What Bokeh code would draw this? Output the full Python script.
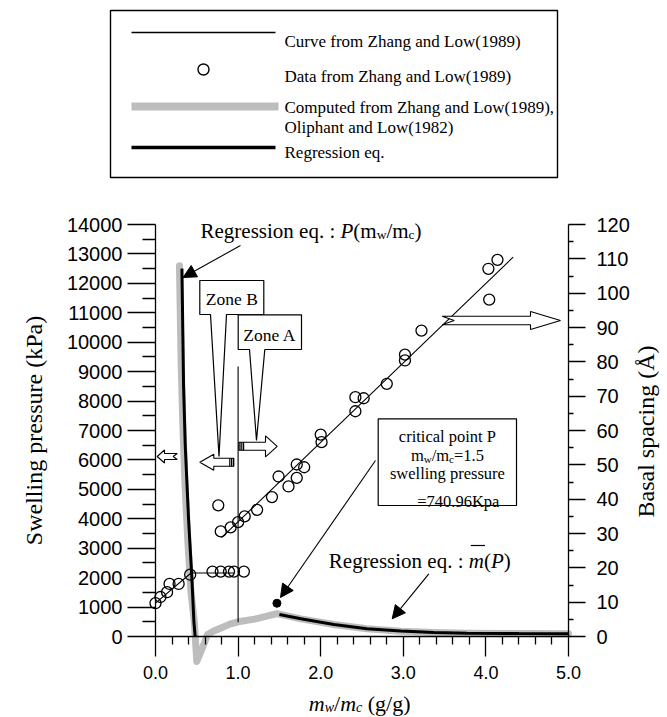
import math
from bokeh.plotting import figure
from bokeh.models import Range1d, LinearAxis, FixedTicker, NumeralTickFormatter, Arrow, NormalHead
from bokeh.core.properties import value
from bokeh.embed import file_html
from bokeh.resources import INLINE

# ---------------- data ----------------
# Data from Zhang and Low (1989): water content m_w/m_c (g/g) and basal spacing (Å)
data_low_x = [0.00, 0.06, 0.14, 0.17, 0.28, 0.42, 0.69, 0.79, 0.89, 0.95, 1.07]
data_low_spacing = [9.7, 11.5, 12.9, 15.3, 15.3, 18.0, 18.9, 18.9, 18.9, 18.9, 18.9]
data_high_x = [0.76, 0.79, 0.91, 1.00, 1.08, 1.23, 1.41, 1.49, 1.61, 1.71, 1.71, 1.80,
               2.00, 2.01, 2.42, 2.42, 2.52, 2.80, 3.02, 3.02, 3.22, 4.03, 4.04, 4.14]
data_high_spacing = [38.2, 30.6, 31.8, 33.3, 35.0, 36.9, 40.6, 46.6, 43.7, 46.2, 50.1, 49.3,
                     58.8, 56.6, 65.6, 69.7, 69.4, 73.6, 80.4, 82.1, 89.1, 107.1, 98.1, 109.7]

# Curve from Zhang and Low (1989)  (basal spacing, Å)
curve_low_x = [0.00, 0.43, 0.95]
curve_low_spacing = [9.7, 18.5, 18.5]
curve_high_x = [0.80, 4.33]
curve_high_spacing = [28.8, 110.5]

# Computed from Zhang and Low (1989), Oliphant and Low (1982)  (swelling pressure, kPa)
computed_x = [0.29, 0.31, 0.33, 0.355, 0.39, 0.43, 0.47, 0.50, 0.57, 0.63, 0.70, 0.80,
              0.90, 1.00, 1.20, 1.47, 1.76, 2.16, 2.56, 2.97, 3.37, 3.77, 4.40, 5.00]
computed_p = [12600, 9300, 7300, 5300, 3300, 1500, 500, -850, -370, 70, 180, 300,
              420, 500, 590, 780, 600, 410, 262, 182, 140, 112, 98, 90]

# Regression eq. P(m_w/m_c)  (kPa)
reg_p_x = [0.32, 0.34, 0.36, 0.40, 0.44, 0.465, 0.48]
reg_p_p = [12500, 8500, 6500, 4000, 2000, 500, 0]
# Regression eq. m(P)  (kPa)
reg_m_x = [1.50, 1.76, 2.16, 2.56, 2.97, 3.37, 3.77, 4.40, 5.00]
reg_m_p = [750, 600, 410, 265, 185, 140, 112, 98, 90]

# Critical point P
crit_x = [1.47]
crit_p = [1130]

# Ticks
x_ticks = [0, 1, 2, 3, 4, 5]
x_minor = [0.2, 0.4, 0.6, 0.8, 1.2, 1.4, 1.6, 1.8, 2.2, 2.4, 2.6, 2.8,
           3.2, 3.4, 3.6, 3.8, 4.2, 4.4, 4.6, 4.8]
p_ticks = [0, 1000, 2000, 3000, 4000, 5000, 6000, 7000, 8000, 9000, 10000,
           11000, 12000, 13000, 14000]
p_minor = [500, 1500, 2500, 3500, 4500, 5500, 6500, 7500, 8500, 9500, 10500,
           11500, 12500, 13500]
a_ticks = [0, 10, 20, 30, 40, 50, 60, 70, 80, 90, 100, 110, 120]
a_minor = [5, 15, 25, 35, 45, 55, 65, 75, 85, 95, 105, 115]
P_MAX = 14000
A_MAX = 120

# ---------------- layout ----------------
W, H = 660, 716
MARGIN = 0
X0_IMG, X5_IMG = 155.0, 568.0     # page pixels of x=0 and x=5
Y0_IMG, YT_IMG = 636.0, 224.0     # page pixels of P=0 and P=14000
SX = (X5_IMG - X0_IMG) / 5.0
SY = (Y0_IMG - YT_IMG) / P_MAX

x_start = (MARGIN - X0_IMG) / SX
x_end = (MARGIN + W - X0_IMG) / SX
y_end = (Y0_IMG - MARGIN) / SY
y_start = (Y0_IMG - (MARGIN + H)) / SY


def ix(px):
    return (px - X0_IMG) / SX


def iy(py):
    return (Y0_IMG - py) / SY


SERIF = "Liberation Serif"
SANS = "Liberation Sans"

p = figure(width=W, height=H, x_range=Range1d(x_start, x_end), y_range=Range1d(y_start, y_end),
           output_backend="svg", toolbar_location=None)
p.min_border = 0
p.min_border_left = 0
p.min_border_right = 0
p.min_border_top = 0
p.min_border_bottom = 0
p.outline_line_color = None
p.grid.visible = False
p.background_fill_color = "white"
p.extra_y_ranges = {"basal": Range1d(y_start * A_MAX / P_MAX, y_end * A_MAX / P_MAX)}

# x axis at P = 0
xa = p.xaxis[0]
xa.fixed_location = 0
xa.bounds = (0, 5)
xa.ticker = FixedTicker(ticks=x_ticks, minor_ticks=x_minor)
xa.formatter = NumeralTickFormatter(format="0.0")
xa.major_tick_in = 0
xa.major_tick_out = 20
xa.minor_tick_in = 0
xa.minor_tick_out = 8
xa.major_label_standoff = 9
xa.major_label_text_font = SANS
xa.major_label_text_font_size = "18px"
xa.major_label_text_color = "black"

# left axis at x = 0
ya = p.yaxis[0]
ya.fixed_location = 0
ya.bounds = (0, P_MAX)
ya.ticker = FixedTicker(ticks=p_ticks, minor_ticks=p_minor)
ya.major_tick_in = 0
ya.major_tick_out = 28
ya.minor_tick_in = 0
ya.minor_tick_out = 13
ya.major_label_standoff = 5
ya.major_label_text_font = SANS
ya.major_label_text_font_size = "20px"
ya.major_label_text_color = "black"

ra = LinearAxis(y_range_name="basal", fixed_location=5, bounds=(0, A_MAX),
                ticker=FixedTicker(ticks=a_ticks, minor_ticks=a_minor))
ra.major_tick_in = 0
ra.major_tick_out = 17
ra.minor_tick_in = 0
ra.minor_tick_out = 5
ra.major_label_standoff = 11
ra.major_label_text_font = SANS
ra.major_label_text_font_size = "20px"
ra.major_label_text_color = "black"
p.add_layout(ra, "right")

for ax in (xa, ya, ra):
    ax.axis_line_color = "black"
    ax.axis_line_width = 1.3
    ax.major_tick_line_color = "black"
    ax.major_tick_line_width = 1.3
    ax.minor_tick_line_color = "black"
    ax.minor_tick_line_width = 1.3

GREY = "#bdbdbd"

# ---------------- data marks ----------------
p.line(computed_x, computed_p, line_width=7, color=GREY, line_join="round", line_cap="round")
p.line(reg_p_x, reg_p_p, line_width=3, color="black")
p.line(reg_m_x, reg_m_p, line_width=3, color="black")
p.line(curve_low_x, curve_low_spacing, y_range_name="basal", line_width=1.1, color="black")
p.line(curve_high_x, curve_high_spacing, y_range_name="basal", line_width=1.1, color="black")
p.scatter(data_low_x, data_low_spacing, y_range_name="basal", size=11, fill_color=None,
          line_color="black", line_width=1.3)
p.scatter(data_high_x, data_high_spacing, y_range_name="basal", size=11, fill_color=None,
          line_color="black", line_width=1.3)
p.scatter(crit_x, crit_p, size=8, fill_color="black", line_color="black")

# vertical line at m_w/m_c = 1.0
p.segment(x0=[1.0], y0=[iy(366)], x1=[1.0], y1=[480], line_color="black", line_width=1.1)

# ---------------- text helpers ----------------
TIMES = {' ': 250, '(': 333, ')': 333, '.': 250, ':': 278, '/': 278, '=': 564, ',': 250,
         'A': 722, 'B': 667, 'C': 667, 'D': 722, 'K': 722, 'L': 611, 'O': 722, 'P': 556,
         'R': 667, 'Z': 611, 'a': 444, 'c': 444, 'd': 500, 'e': 444, 'f': 333, 'g': 500,
         'h': 500, 'i': 278, 'k': 500, 'l': 278, 'm': 778, 'n': 500, 'o': 500, 'p': 500,
         'q': 500, 'r': 333, 's': 389, 't': 278, 'u': 500, 'v': 500, 'w': 722}
TIMES_I = {'m': 722, 'w': 667, 'c': 444, 'P': 611}


def tw(s, size, italic):
    tot = 0
    for ch in s:
        if italic and ch in TIMES_I:
            tot += TIMES_I[ch]
        else:
            tot += TIMES.get(ch, 500)
    return tot / 1000.0 * size


def rich(x0, base, pieces, align="left"):
    widths = [tw(t, s, it) for (t, s, it, dy) in pieces]
    total = sum(widths)
    pos = x0 - total / 2.0 if align == "center" else x0
    spans = []
    for (t, s, it, dy), w in zip(pieces, widths):
        lead = len(t) - len(t.lstrip(" "))
        shown = t.strip(" ")
        start = pos + tw(" " * lead, s, it)
        if shown:
            p.text(x=[ix(start)], y=[iy(base + dy)], text=[shown], text_font=value(SERIF),
                   text_font_size=f"{s}px", text_font_style="italic" if it else "normal",
                   text_baseline="alphabetic", text_align="left", text_color="black")
        spans.append((start, pos + w))
        pos += w
    return spans


def plain(x0, base, t, size, align="left"):
    p.text(x=[ix(x0)], y=[iy(base)], text=[t], text_font=value(SERIF),
           text_font_size=f"{size}px", text_baseline="alphabetic", text_align=align,
           text_color="black")


# ---------------- legend ----------------
p.quad(left=[ix(110)], right=[ix(557)], top=[iy(10)], bottom=[iy(177)], fill_color=None,
       line_color="black", line_width=1.4)
p.segment(x0=[ix(131)], y0=[iy(32)], x1=[ix(275)], y1=[iy(32)], line_color="black", line_width=1.6)
p.scatter([ix(203)], [iy(69)], size=11, fill_color=None, line_color="black", line_width=1.4)
p.segment(x0=[ix(131)], y0=[iy(106)], x1=[ix(278)], y1=[iy(106)], line_color=GREY, line_width=8)
p.segment(x0=[ix(131)], y0=[iy(147)], x1=[ix(275)], y1=[iy(147)], line_color="black", line_width=3.5)
LEG = 17
plain(284, 41, "Curve from Zhang and Low(1989)", LEG)
plain(284, 76, "Data from Zhang and Low(1989)", LEG)
plain(284, 107, "Computed from Zhang and Low(1989),", LEG)
plain(284, 127, "Oliphant and Low(1982)", LEG)
plain(284, 152, "Regression eq.", LEG)


# ---------------- callouts ----------------
def callout(x0, y0, x1, y1, wl, wr, tipx, tipy):
    xs = [x0, x1, x1, wr, tipx, wl, x0]
    ys = [y0, y0, y1, y1, tipy, y1, y1]
    p.patch([ix(v) for v in xs], [iy(v) for v in ys], fill_color="white",
            line_color="black", line_width=1.2)


callout(199.3, 280, 263.3, 314, 210, 226, 218.5, 456)
plain(231.3, 298.5, "Zone B", 17.5, align="center")
callout(237.7, 314.3, 301, 349, 249, 264.3, 256, 440)
plain(269.3, 334, "Zone A", 17.5, align="center")


def block_arrow(tail, tip, hb, yc, sh, hh, notch=0.0, stripes=()):
    d = 1 if tip > tail else -1
    xs = [tail, hb, hb, tip, hb, hb, tail, tail + d * notch]
    ys = [yc - sh, yc - sh, yc - hh, yc, yc + hh, yc + sh, yc + sh, yc]
    p.patch([ix(v) for v in xs], [iy(v) for v in ys], fill_color="white",
            line_color="black", line_width=1.1)
    for sx in stripes:
        p.segment(x0=[ix(sx)], y0=[iy(yc - sh)], x1=[ix(sx)], y1=[iy(yc + sh)],
                  line_color="black", line_width=1.2)


block_arrow(441.7, 560, 530, 320, 4.2, 9, notch=12)
block_arrow(238.3, 276.7, 265, 445.8, 4, 10.5, stripes=(239.5, 241.3, 243.1))
block_arrow(233.3, 199.3, 213.3, 461.7, 4, 8, stripes=(229.3, 231.1, 232.9))
block_arrow(176.7, 156.7, 164, 456, 3, 6.5, notch=4)

# ---------------- pointer arrows ----------------
for (xa0, ya0, xa1, ya1) in [(240, 245, 182.5, 277), (375, 460, 280, 597),
                             (428.3, 573.3, 391.7, 618.3)]:
    p.add_layout(Arrow(end=NormalHead(size=13, fill_color="black", line_color="black"),
                       x_start=ix(xa0), y_start=iy(ya0), x_end=ix(xa1), y_end=iy(ya1),
                       line_color="black", line_width=1.1))

# ---------------- annotations ----------------
BIG = 21
SUB = 13.5
rich(200, 230, [("Regression eq. : ", BIG, False, 0), ("P", BIG, True, 0), ("(m", BIG, False, 0),
                ("w", SUB, False, 4), ("/m", BIG, False, 0), ("c", SUB, False, 4),
                (")", BIG, False, 0)])

spans = rich(328.3, 560, [("Regression eq. : ", BIG, False, 0), ("m", BIG, True, 0),
                          ("(", BIG, False, 0), ("P", BIG, True, 0), (")", BIG, False, 0)])
mx0, mx1 = spans[1]
p.segment(x0=[ix(mx0 + 2)], y0=[iy(545)], x1=[ix(mx1 + 1)], y1=[iy(545)], line_color="black",
          line_width=1.2)

# critical point box
p.quad(left=[ix(377.7)], right=[ix(516)], top=[iy(418.3)], bottom=[iy(505)], fill_color="white",
       line_color="black", line_width=1.2)
CB = 16.5
CS = 11
plain(446.9, 435.5, "critical point P", CB, align="center")
rich(446.9, 455, [("m", CB, False, 0), ("w", CS, False, 3), ("/m", CB, False, 0),
                  ("c", CS, False, 3), ("=1.5", CB, False, 0)], align="center")
plain(446.9, 473, "swelling pressure", CB, align="center")
plain(416.7, 500.5, "=740.96Kpa", CB)

# axis titles
AX = 24
p.text(x=[ix(33)], y=[iy(430)], text=["Swelling pressure (kPa)"], angle=math.pi / 2,
       text_font=value(SERIF), text_font_size=f"{AX}px", text_align="center",
       text_baseline="middle", text_color="black")
p.text(x=[ix(645)], y=[iy(431)], text=["Basal spacing (Å)"], angle=math.pi / 2,
       text_font=value(SERIF), text_font_size=f"{AX}px", text_align="center",
       text_baseline="middle", text_color="black")
XL = 22
XS = 14
rich(308.3, 703, [("m", XL, True, 0), ("w", XS, True, 4), ("/", XL, False, 0),
                  ("m", XL, True, 0), ("c", XS, True, 4), (" (g/g)", XL, False, 0)])

open("out.html", "w").write(file_html(p, INLINE))
